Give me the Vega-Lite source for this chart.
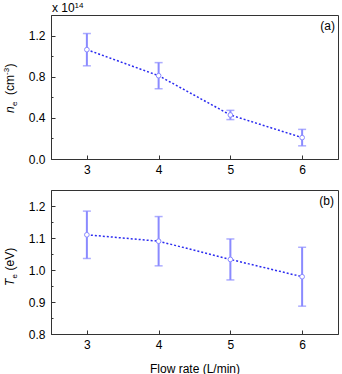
{
  "$schema": "https://vega.github.io/schema/vega-lite/v6.json",
  "autosize": {"type": "none"},
  "padding": {"left": 51, "top": 15, "right": 291, "bottom": 359},
  "bounds": "flush",
  "spacing": 31,
  "background": "white",
  "config": {
    "font": "Liberation Sans",
    "view": {"stroke": "#333", "strokeWidth": 1},
    "axis": {
      "grid": false,
      "domainColor": "#333",
      "domainWidth": 1,
      "tickColor": "#333",
      "tickWidth": 1,
      "labelFont": "Liberation Sans",
      "labelFontSize": 12,
      "labelColor": "#000",
      "labelOverlap": false,
      "titleFont": "Liberation Sans",
      "titleFontSize": 12,
      "titleFontWeight": "normal",
      "titleColor": "#000"
    }
  },
  "data": {
    "values": [
      {"flow": 3, "ne": 1.063, "ne_err": 0.157, "te": 1.110, "te_err": 0.074},
      {"flow": 4, "ne": 0.810, "ne_err": 0.127, "te": 1.090, "te_err": 0.077},
      {"flow": 5, "ne": 0.428, "ne_err": 0.045, "te": 1.033, "te_err": 0.064},
      {"flow": 6, "ne": 0.208, "ne_err": 0.080, "te": 0.979, "te_err": 0.092}
    ]
  },
  "vconcat": [
    {
      "width": 287,
      "height": 144,
      "resolve": {"axis": {"y": "independent"}},
      "layer": [
        {
          "mark": {"type": "errorbar", "color": "#8a8aff", "ticks": {"size": 8, "thickness": 1.5, "color": "#8a8aff"}, "rule": {"strokeWidth": 2}},
          "encoding": {
            "x": {"field": "flow", "type": "quantitative", "scale": {"domain": [2.5, 6.5], "nice": false, "zero": false},
              "axis": {"values": [3, 4, 5, 6], "format": "d", "title": null, "tickSize": -4, "labelPadding": 9}},
            "y": {"field": "ne", "type": "quantitative", "scale": {"domain": [0, 1.4], "nice": false},
              "axis": {"orient": "left", "values": [0, 0.4, 0.8, 1.2], "format": ".1f", "title": null, "tickSize": -4, "labelPadding": 10}},
            "yError": {"field": "ne_err"}
          }
        },
        {
          "mark": {"type": "line", "color": "#2b2bf0", "strokeWidth": 1.5, "strokeDash": [2, 2]},
          "encoding": {
            "x": {"field": "flow", "type": "quantitative"},
            "y": {"field": "ne", "type": "quantitative",
              "axis": {"orient": "left", "values": [0.2, 0.6, 1.0], "labels": false, "domain": false, "title": null, "tickSize": -2}}
          }
        },
        {
          "mark": {"type": "point", "filled": true, "fill": "white", "stroke": "#8a8aff", "strokeWidth": 1, "size": 22, "opacity": 1},
          "encoding": {
            "x": {"field": "flow", "type": "quantitative"},
            "y": {"field": "ne", "type": "quantitative", "axis": null}
          }
        },
        {
          "data": {"values": [{}]},
          "layer": [
            {"mark": {"type": "text", "text": "x 10", "fontSize": 12, "align": "left", "baseline": "alphabetic", "dx": 1, "dy": -3, "color": "#000"},
             "encoding": {"x": {"datum": 2.5, "type": "quantitative"}, "y": {"datum": 1.4, "type": "quantitative", "axis": null}}},
            {"mark": {"type": "text", "text": "14", "fontSize": 8, "align": "left", "baseline": "alphabetic", "dx": 23.5, "dy": -7.5, "color": "#000"},
             "encoding": {"x": {"datum": 2.5, "type": "quantitative"}, "y": {"datum": 1.4, "type": "quantitative", "axis": null}}},
            {"mark": {"type": "text", "text": "(a)", "fontSize": 12, "align": "right", "baseline": "alphabetic", "dx": -3, "dy": 15, "color": "#000"},
             "encoding": {"x": {"datum": 6.5, "type": "quantitative"}, "y": {"datum": 1.4, "type": "quantitative", "axis": null}}},
            {"mark": {"type": "text", "text": "n", "fontSize": 12, "fontStyle": "italic", "angle": 270, "align": "left", "baseline": "alphabetic", "dx": -26, "dy": -37, "color": "#000"},
             "encoding": {"x": {"datum": 2.5, "type": "quantitative"}, "y": {"datum": 0.7, "type": "quantitative", "axis": null}}},
            {"mark": {"type": "text", "text": "e", "fontSize": 8, "angle": 270, "align": "left", "baseline": "alphabetic", "dx": -19, "dy": -34, "color": "#000"},
             "encoding": {"x": {"datum": 2.5, "type": "quantitative"}, "y": {"datum": 0.7, "type": "quantitative", "axis": null}}},
            {"mark": {"type": "text", "text": "(cm", "fontSize": 12, "angle": 270, "align": "left", "baseline": "alphabetic", "dx": -8, "dy": -37, "color": "#000"},
             "encoding": {"x": {"datum": 2.5, "type": "quantitative"}, "y": {"datum": 0.7, "type": "quantitative", "axis": null}}},
            {"mark": {"type": "text", "text": "-3", "fontSize": 8, "angle": 270, "align": "left", "baseline": "alphabetic", "dx": 12, "dy": -42, "color": "#000"},
             "encoding": {"x": {"datum": 2.5, "type": "quantitative"}, "y": {"datum": 0.7, "type": "quantitative", "axis": null}}},
            {"mark": {"type": "text", "text": ")", "fontSize": 12, "angle": 270, "align": "left", "baseline": "alphabetic", "dx": 19.5, "dy": -37, "color": "#000"},
             "encoding": {"x": {"datum": 2.5, "type": "quantitative"}, "y": {"datum": 0.7, "type": "quantitative", "axis": null}}}
          ]
        }
      ]
    },
    {
      "width": 287,
      "height": 144,
      "resolve": {"axis": {"y": "independent"}},
      "layer": [
        {
          "mark": {"type": "errorbar", "color": "#8a8aff", "ticks": {"size": 8, "thickness": 1.5, "color": "#8a8aff"}, "rule": {"strokeWidth": 2}},
          "encoding": {
            "x": {"field": "flow", "type": "quantitative", "scale": {"domain": [2.5, 6.5], "nice": false, "zero": false},
              "axis": {"values": [3, 4, 5, 6], "format": "d", "title": "Flow rate (L/min)", "tickSize": -4, "labelPadding": 9, "titlePadding": 13}},
            "y": {"field": "te", "type": "quantitative", "scale": {"domain": [0.8, 1.25], "nice": false, "zero": false},
              "axis": {"orient": "left", "values": [0.8, 0.9, 1.0, 1.1, 1.2], "format": ".1f", "title": null, "tickSize": -4, "labelPadding": 10}},
            "yError": {"field": "te_err"}
          }
        },
        {
          "mark": {"type": "line", "color": "#2b2bf0", "strokeWidth": 1.5, "strokeDash": [2, 2]},
          "encoding": {
            "x": {"field": "flow", "type": "quantitative"},
            "y": {"field": "te", "type": "quantitative",
              "axis": {"orient": "left", "values": [0.85, 0.95, 1.05, 1.15], "labels": false, "domain": false, "title": null, "tickSize": -2}}
          }
        },
        {
          "mark": {"type": "point", "filled": true, "fill": "white", "stroke": "#8a8aff", "strokeWidth": 1, "size": 22, "opacity": 1},
          "encoding": {
            "x": {"field": "flow", "type": "quantitative"},
            "y": {"field": "te", "type": "quantitative", "axis": null}
          }
        },
        {
          "data": {"values": [{}]},
          "layer": [
            {"mark": {"type": "text", "text": "(b)", "fontSize": 12, "align": "right", "baseline": "alphabetic", "dx": -4, "dy": 15, "color": "#000"},
             "encoding": {"x": {"datum": 6.5, "type": "quantitative"}, "y": {"datum": 1.25, "type": "quantitative", "axis": null}}},
            {"mark": {"type": "text", "text": "T", "fontSize": 12, "fontStyle": "italic", "angle": 270, "align": "left", "baseline": "alphabetic", "dx": -24, "dy": -37, "color": "#000"},
             "encoding": {"x": {"datum": 2.5, "type": "quantitative"}, "y": {"datum": 1.025, "type": "quantitative", "axis": null}}},
            {"mark": {"type": "text", "text": "e", "fontSize": 8, "angle": 270, "align": "left", "baseline": "alphabetic", "dx": -16.5, "dy": -34, "color": "#000"},
             "encoding": {"x": {"datum": 2.5, "type": "quantitative"}, "y": {"datum": 1.025, "type": "quantitative", "axis": null}}},
            {"mark": {"type": "text", "text": "(eV)", "fontSize": 12, "angle": 270, "align": "left", "baseline": "alphabetic", "dx": -8.5, "dy": -37, "color": "#000"},
             "encoding": {"x": {"datum": 2.5, "type": "quantitative"}, "y": {"datum": 1.025, "type": "quantitative", "axis": null}}}
          ]
        }
      ]
    }
  ]
}
